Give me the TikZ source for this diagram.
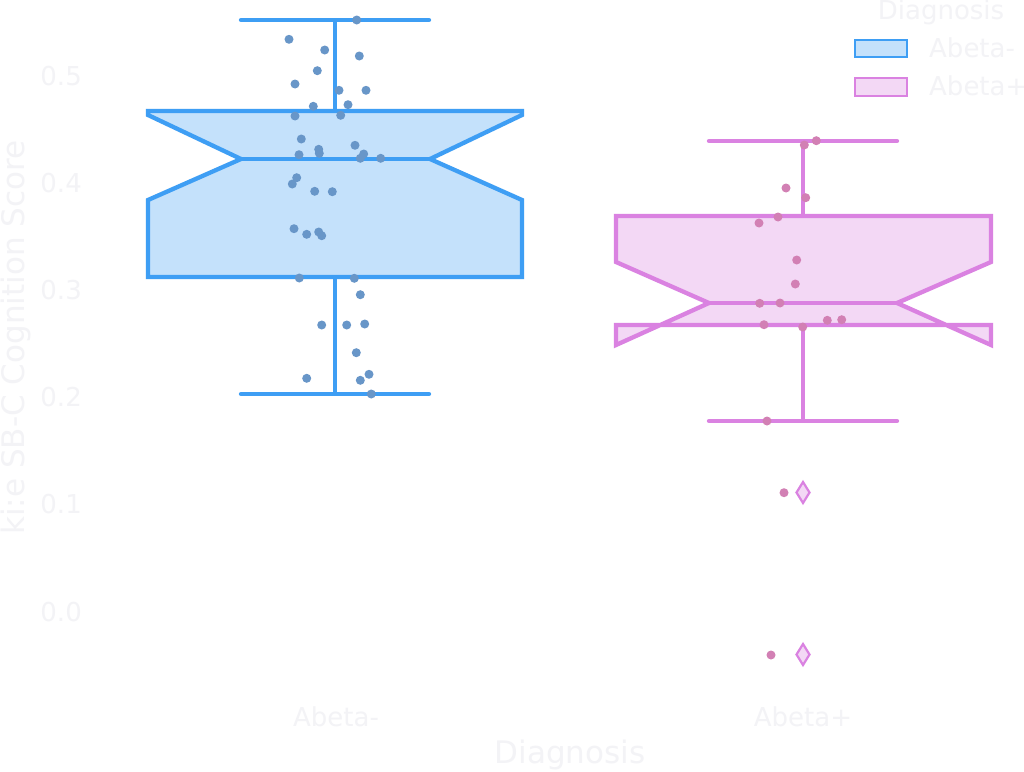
\documentclass[tikz,border=0pt]{standalone}
\usepackage{fontspec}
\setmainfont{DejaVu Sans}
\definecolor{bluel}{RGB}{62,158,244}
\definecolor{bluef}{RGB}{196,225,251}
\definecolor{bluedot}{RGB}{104,150,200}
\definecolor{pinkl}{RGB}{218,130,225}
\definecolor{pinkf}{RGB}{243,216,245}
\definecolor{pinkdot}{RGB}{210,128,180}
\definecolor{textc}{RGB}{243,243,246}
\tikzset{
  boxb/.style={draw=bluel,fill=bluef,line width=4.3pt,line join=miter},
  boxp/.style={draw=pinkl,fill=pinkf,line width=4.3pt,line join=miter},
  linb/.style={draw=bluel,line width=4.3pt,line cap=round},
  linp/.style={draw=pinkl,line width=4.3pt,line cap=round},
  ticklab/.style={text=textc,font=\fontsize{26}{30}\selectfont,inner sep=0pt},
  axlab/.style={text=textc,font=\fontsize{31}{36}\selectfont,inner sep=0pt},
  legpatch/.style={line width=2.2pt},
}
\begin{document}
\begin{tikzpicture}[x=1pt,y=-1pt]
\useasboundingbox (0,0) rectangle (1024,771);
\fill[white] (0,0) rectangle (1024,771);
% blue box (Abeta-)
\path[boxb] (148,277) -- (522,277) -- (522,200) -- (430,159) -- (522,115) -- (522,111)
  -- (148,111) -- (148,115) -- (241,159) -- (148,200) -- cycle;
\draw[linb,line cap=butt] (241,159) -- (430,159);
\draw[linb,line cap=butt] (335,111) -- (335,20);
\draw[linb,line cap=butt] (335,277) -- (335,394);
\draw[linb] (241,20) -- (429,20);
\draw[linb] (241,394) -- (429,394);
% pink box (Abeta+)
\path[boxp] (616,325) -- (991,325) -- (991,345) -- (897,303) -- (991,262) -- (991,216)
  -- (616,216) -- (616,262) -- (709,303) -- (616,345) -- cycle;
\draw[linp,line cap=butt] (709,303) -- (897,303);
\draw[linp,line cap=butt] (803,216) -- (803,141);
\draw[linp,line cap=butt] (803,325) -- (803,421);
\draw[linp] (709,141) -- (897,141);
\draw[linp] (709,421) -- (897,421);
% outliers
\foreach \yy in {492.5,654.5}{
  \draw[draw=pinkl,fill=pinkf,line width=2.2pt,line join=miter]
    (803,\yy-10.5) -- (809.5,\yy) -- (803,\yy+10.5) -- (796.5,\yy) -- cycle;
}
% blue points
\foreach \px/\py in {356.7/20,289/39.3,324.7/50,359.3/56,317.3/70.7,295/84,339/90.3,366/90.3,
  348/104.7,313.3/106.3,295/116,340.7/115.3,301.3/139,318.7/149.3,319.3/153.3,355/145.3,
  299/154.7,363.7/154,360.3/158.3,380.7/158.3,296.7/177.7,292.3/184,314.7/191.3,332.3/191.7,
  294/228.7,306.7/234.3,318.7/232,321.7/235.7,299.3/278,354.3/278.3,360.3/294.7,321.7/325,
  346.7/325,364.7/324,356.3/352.7,306.7/378.3,369/374.3,360.3/380.3,371.3/394}
  {\fill[bluedot] (\px,\py) circle (4.5);}
% pink points
\foreach \px/\py in {816.3/140.7,804.3/145,786/188,805.7/197.7,778/217,759/223,796.7/260,
  795.3/284,759.7/303.3,780/303,764/324.7,802.7/327,827.3/320.3,841.7/319.7,767/421,
  784/492.7,771/655}
  {\fill[pinkdot] (\px,\py) circle (4.5);}
% y ticks
\node[ticklab,anchor=base east] (t5) at (82,85) {0.5};
\node[ticklab,anchor=base east] (t4) at (82,192) {0.4};
\node[ticklab,anchor=base east] (t3) at (82,299) {0.3};
\node[ticklab,anchor=base east] (t2) at (82,406) {0.2};
\node[ticklab,anchor=base east] (t1) at (82,513) {0.1};
\node[ticklab,anchor=base east] (t0) at (82,621) {0.0};
% x ticks
\node[ticklab,anchor=base] (xa) at (336,726) {Abeta-};
\node[ticklab,anchor=base] (xb) at (803,726) {Abeta+};
% axis labels
\node[axlab,anchor=base] (xl) at (570,763) {Diagnosis};
\node[axlab,anchor=base,rotate=90] (yl) at (24,337.5) {ki:e SB-C Cognition Score};
% legend
\node[ticklab,anchor=base] (lt) at (941,19) {Diagnosis};
\draw[legpatch,draw=bluel,fill=bluef] (855,40) rectangle (907,57);
\draw[legpatch,draw=pinkl,fill=pinkf] (855,78) rectangle (907,96);
\node[ticklab,anchor=base west] (la) at (929,57) {Abeta-};
\node[ticklab,anchor=base west] (lb) at (929,95) {Abeta+};
\end{tikzpicture}
\end{document}
